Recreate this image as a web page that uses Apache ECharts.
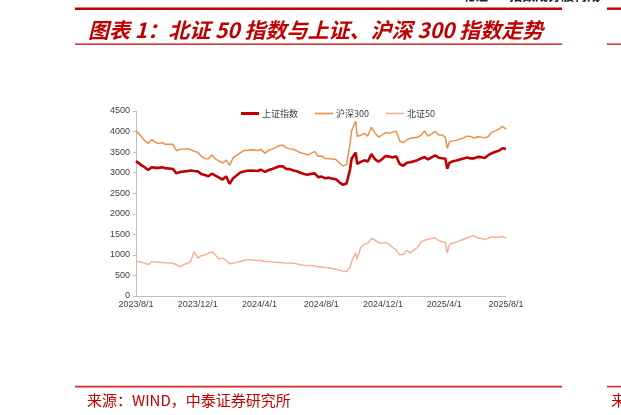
<!DOCTYPE html>
<html>
<head>
<meta charset="utf-8">
<script src="https://cdn.jsdelivr.net/npm/echarts@6/dist/echarts.min.js"></script>
<style>
html,body{margin:0;padding:0;background:#fff;}
#c{width:621px;height:415px;}
</style>
</head>
<body>
<div id="c"></div>
<script>
const dates = [
'2023-08-01','2023-08-04','2023-08-11','2023-08-18','2023-08-25','2023-09-01','2023-09-08','2023-09-15','2023-09-22','2023-09-28',
'2023-10-13','2023-10-20','2023-10-27','2023-11-03','2023-11-10','2023-11-17','2023-11-24','2023-12-01','2023-12-08','2023-12-15','2023-12-22','2023-12-29',
'2024-01-05','2024-01-12','2024-01-19','2024-01-26','2024-02-02','2024-02-05','2024-02-09','2024-02-23',
'2024-03-01','2024-03-08','2024-03-15','2024-03-22','2024-03-29','2024-04-03','2024-04-12','2024-04-19','2024-04-26',
'2024-05-10','2024-05-17','2024-05-24','2024-05-31','2024-06-07','2024-06-14','2024-06-21','2024-06-28',
'2024-07-05','2024-07-12','2024-07-19','2024-07-26','2024-08-02','2024-08-09','2024-08-16','2024-08-23','2024-08-30',
'2024-09-06','2024-09-13','2024-09-20','2024-09-27','2024-09-30','2024-10-08','2024-10-11','2024-10-18','2024-10-25',
'2024-11-01','2024-11-08','2024-11-15','2024-11-22','2024-11-29','2024-12-06','2024-12-13','2024-12-20','2024-12-27',
'2025-01-03','2025-01-10','2025-01-17','2025-01-24','2025-02-07','2025-02-14','2025-02-21','2025-02-28',
'2025-03-07','2025-03-14','2025-03-21','2025-03-28','2025-04-03','2025-04-07','2025-04-11','2025-04-18','2025-04-25',
'2025-05-09','2025-05-16','2025-05-23','2025-05-30','2025-06-06','2025-06-13','2025-06-20','2025-06-27',
'2025-07-04','2025-07-11','2025-07-18','2025-07-25','2025-08-01'
];
const sse = [
3280,3288,3189,3132,3064,3133,3117,3117,3132,3110,3088,2983,3017,3030,3038,3054,3041,3031,2969,2942,2914,2975,
2929,2882,2833,2910,2730,2702,2866,3004,3027,3046,3054,3048,3041,3074,3019,3065,3088,3154,3154,3089,3087,3051,3033,2998,2967,
2949,2971,2982,2891,2905,2862,2879,2855,2842,2765,2704,2737,3088,3337,3489,3217,3262,3300,3272,3452,3330,3267,3326,3404,3391,3368,3400,
3211,3169,3241,3252,3303,3346,3379,3321,3373,3419,3364,3351,3342,3097,3238,3277,3295,3342,3367,3348,3347,3385,3377,3359,3424,
3473,3510,3534,3594,3575
];
const csi300 = [
4020,4010,3884,3783,3709,3810,3740,3708,3730,3690,3690,3533,3572,3572,3585,3562,3519,3497,3400,3341,3335,3431,
3329,3285,3233,3304,3179,3200,3364,3482,3539,3545,3558,3552,3537,3567,3475,3541,3574,3656,3670,3602,3580,3569,3529,3484,3462,
3432,3472,3520,3399,3406,3342,3343,3331,3321,3233,3160,3201,3704,4017,4256,3887,3910,3956,3890,4104,3968,3867,3916,3973,3960,3985,4010,
3775,3732,3799,3838,3860,3906,4017,3890,3944,4006,3914,3915,3862,3589,3750,3773,3786,3846,3890,3882,3840,3873,3865,3846,3880,
3982,4015,4058,4128,4055
];
const bse50 = [
851,845,820,800,760,835,825,820,815,810,800,760,715,760,790,840,1080,920,980,1000,1040,1080,
990,900,920,870,780,750,800,840,870,880,885,870,860,870,840,835,830,815,810,800,800,795,780,760,750,
740,745,730,710,705,690,680,670,650,630,605,595,700,840,1050,900,1180,1260,1280,1400,1360,1300,1280,1300,1260,1180,1120,
1000,1010,1110,1050,1180,1310,1360,1380,1400,1410,1350,1320,1310,1050,1250,1290,1310,1380,1410,1450,1470,1410,1400,1370,1410,
1440,1430,1435,1445,1410
];
const xLabelDates = [[2023,8,1],[2023,12,1],[2024,4,1],[2024,8,1],[2024,12,1],[2025,4,1],[2025,8,1]];
const seriesNames = ['上证指数','沪深300','北证50'];
const titleText = '图表 1：北证 50 指数与上证、沪深 300 指数走势';
const sourceText = '来源：WIND，中泰证券研究所';

const toTs = a => Date.UTC(a[0], a[1]-1, a[2]);
const strTs = s => { const p = s.split('-').map(Number); return toTs(p); };
const labelTs = xLabelDates.map(toTs);
const pair = vals => dates.map((d,i) => [strTs(d), vals[i]]);

const red = '#C00000';
const colors = [red, '#F08A3E', '#F5AE94'];
const widths = [2.6, 1.4, 1.4];
const legendLeft = [236, 310, 381];
const legendIconH = [3, 1.6, 1.6];

const chart = echarts.init(document.getElementById('c'));
chart.setOption({
  animation: false,
  backgroundColor: '#fff',
  grid: {left: 136, right: 115, top: 111, bottom: 119},
  legend: seriesNames.map((n, i) => ({
    left: legendLeft[i], top: 104, itemWidth: 18, itemHeight: legendIconH[i], itemGap: 0,
    icon: 'rect',
    textStyle: {fontSize: 9, color: '#404040', fontFamily: 'Noto Sans CJK SC', padding: [0, 0, 0, -2]},
    data: [n]
  })),
  xAxis: {
    type: 'value',
    min: labelTs[0], max: labelTs[labelTs.length-1],
    axisLine: {lineStyle: {color: '#BFBFBF'}},
    axisTick: {show: false},
    splitLine: {show: false},
    axisLabel: {
      customValues: labelTs,
      fontSize: 9, color: '#404040', fontFamily: 'Liberation Sans', margin: 4,
      hideOverlap: false, showMinLabel: true, showMaxLabel: true,
      formatter: v => { const d = new Date(v); return d.getUTCFullYear()+'/'+(d.getUTCMonth()+1)+'/'+d.getUTCDate(); }
    }
  },
  yAxis: {
    type: 'value', min: 0, max: 4500, interval: 500,
    axisLine: {show: true, lineStyle: {color: '#BFBFBF'}},
    axisTick: {show: true, length: 3, lineStyle: {color: '#BFBFBF'}},
    splitLine: {show: false},
    axisLabel: {fontSize: 9, color: '#404040', fontFamily: 'Liberation Sans', margin: 6, formatter: v => String(v)}
  },
  series: seriesNames.map((n, i) => ({
    name: n, type: 'line', symbol: 'none', data: pair([sse, csi300, bse50][i]),
    lineStyle: {color: colors[i], width: widths[i]}, itemStyle: {color: colors[i]}, z: 3 - i
  })),
  graphic: [
    {type: 'rect', shape: {x: 75, y: 7.5, width: 487, height: 2.4}, style: {fill: red}},
    {type: 'rect', shape: {x: 607, y: 7.5, width: 20, height: 2.4}, style: {fill: red}},
    {type: 'rect', shape: {x: 75, y: 43.5, width: 487, height: 1.2}, style: {fill: red}},
    {type: 'rect', shape: {x: 607, y: 43.5, width: 20, height: 1.2}, style: {fill: red}},
    {type: 'text', style: {x: 462, y: -11, text: '北证 50 指数成分股构成', fill: '#222', font: 'bold 13px "Noto Sans CJK SC"'}},
    {type: 'text', style: {x: 88, y: 30, text: titleText, fill: red, textVerticalAlign: 'middle',
      font: 'italic bold 21px "Noto Sans CJK SC"'}},
    {type: 'rect', shape: {x: 75, y: 385.8, width: 487, height: 1.6}, style: {fill: '#D42A2A'}},
    {type: 'rect', shape: {x: 607, y: 385.8, width: 20, height: 1.6}, style: {fill: '#D42A2A'}},
    {type: 'text', style: {x: 87, y: 400, text: sourceText, fill: red, textVerticalAlign: 'middle',
      font: '15px "Noto Sans CJK SC"'}},
    {type: 'text', style: {x: 611, y: 400, text: '来', fill: red, textVerticalAlign: 'middle',
      font: '15px "Noto Sans CJK SC"'}}
  ]
});
</script>
</body>
</html>
